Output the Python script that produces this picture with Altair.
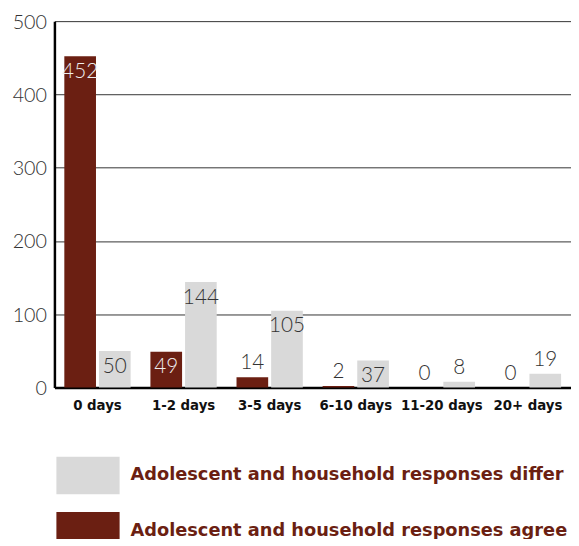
import altair as alt
import pandas as pd

categories = ["0 days", "1-2 days", "3-5 days", "6-10 days", "11-20 days", "20+ days"]
agree = [452, 49, 14, 2, 0, 0]
differ = [50, 144, 105, 37, 8, 19]
series = ["Adolescent and household responses agree", "Adolescent and household responses differ"]

rows = []
for c, a, d in zip(categories, agree, differ):
    rows.append({"cat": c, "series": series[0], "value": a})
    rows.append({"cat": c, "series": series[1], "value": d})
df = pd.DataFrame(rows)

DARK = "#6B1F12"
LIGHT = "#D9D9D9"

x = alt.X("cat:N", sort=categories, title=None,
          scale=alt.Scale(paddingInner=0.23, paddingOuter=0.115),
          axis=alt.Axis(labelAngle=0, ticks=False, labelPadding=10, domainColor="#000",
                        domainWidth=2.5, labelFont="DejaVu Sans Condensed, DejaVu Sans",
                        labelFontWeight="bold", labelFontSize=15, labelColor="#111"))
xo = alt.XOffset("series:N", sort=series, scale=alt.Scale(paddingInner=0.086, paddingOuter=0))
y = alt.Y("value:Q", title=None,
          scale=alt.Scale(domain=[0, 500], nice=False),
          axis=alt.Axis(values=[0, 100, 200, 300, 400, 500], ticks=False, labelPadding=8,
                        labelOffset=1, domainColor="#000", domainWidth=2.5, gridColor="#333",
                        gridWidth=1, labelFont="Lato", labelFontWeight=300, labelFontSize=20,
                        labelColor="#333"))

rect_path = "M-1.684,-1L1.684,-1L1.684,1L-1.684,1Z"

bars = alt.Chart(df).mark_bar().encode(
    x=x, xOffset=xo, y=y,
    color=alt.Color("series:N", sort=[series[1], series[0]],
                    scale=alt.Scale(domain=[series[1], series[0]], range=[LIGHT, DARK]),
                    legend=alt.Legend(title=None, orient="none", legendX=15, legendY=441,
                                      symbolType=rect_path, symbolSize=1444, symbolStrokeWidth=0,
                                      symbolOpacity=1, rowPadding=18, labelOffset=24,
                                      labelFont="DejaVu Sans", labelFontWeight="bold",
                                      labelFontSize=18, labelColor=DARK, padding=0,
                                      labelLimit=600)),
)

inside = alt.Chart(df).transform_filter("datum.value >= 30").mark_text(
    baseline="top", dy=5, font="Lato", fontWeight=300, fontSize=21
).encode(
    x=x, xOffset=xo, y=y, text="value:Q",
    color=alt.Color("series:N", scale=alt.Scale(domain=[series[1], series[0]], range=["#333333", "#eeeeee"]), legend=None),
)

above = alt.Chart(df).transform_filter("datum.value < 30").mark_text(
    baseline="bottom", dy=-4, font="Lato", fontWeight=300, fontSize=21, color="#333"
).encode(x=x, xOffset=xo, y=y, text="value:Q")

chart = alt.layer(bars, inside, above).resolve_scale(color="independent").properties(
    width=523, height=371,
    autosize=alt.AutoSizeParams(type="none"),
    padding={"left": 47, "top": 10, "right": 0, "bottom": 150},
).configure_view(stroke=None).configure_axis(grid=False).configure_axisY(grid=True)

chart.save("out.html", embed_options={"renderer": "svg", "actions": False})
